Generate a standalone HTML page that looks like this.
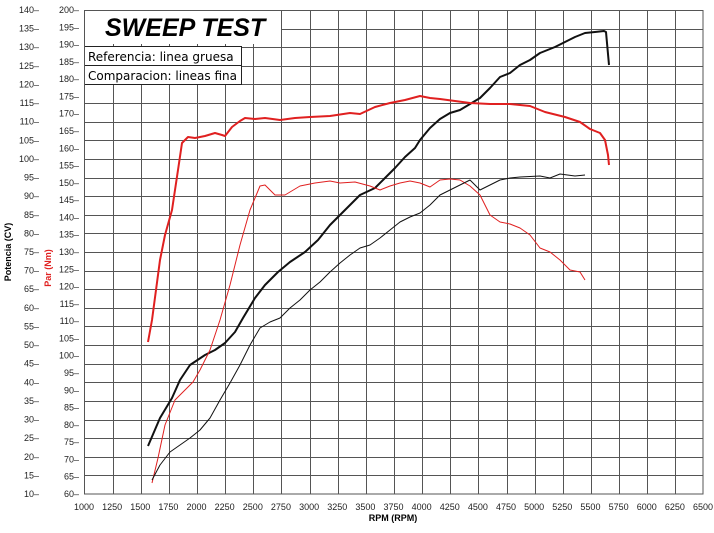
<!DOCTYPE html>
<html><head><meta charset="utf-8"><style>
body{margin:0;background:#fff;}
svg{display:block;font-family:"Liberation Sans",sans-serif;}
</style></head><body>
<svg width="714" height="533" viewBox="0 0 714 533" xmlns="http://www.w3.org/2000/svg">
<rect width="714" height="533" fill="#fff"/>
<g id="grid" stroke="#555" stroke-width="1"></g>
<rect x="84" y="10" width="197" height="34" fill="#fff"/>
<text x="105" y="36" font-size="25" font-weight="bold" font-style="italic">SWEEP TEST</text>
<rect x="84.5" y="46.5" width="157" height="19" fill="#fff" stroke="#222"/>
<rect x="84.5" y="65.5" width="157" height="19" fill="#fff" stroke="#222"/>
<text x="88" y="61" font-size="12" font-family="DejaVu Sans,sans-serif">Referencia: linea gruesa</text>
<text x="88" y="80" font-size="12" font-family="DejaVu Sans,sans-serif">Comparacion: lineas fina</text>
<rect x="84.5" y="10.5" width="618.5" height="483.5" fill="none" stroke="#555"/>
<g id="lbl" font-size="9" fill="#222"></g>
<text x="393" y="521" font-size="9" font-weight="bold" text-anchor="middle">RPM (RPM)</text>
<text transform="translate(11,252) rotate(-90)" font-size="9" font-weight="bold" text-anchor="middle">Potencia (CV)</text>
<text transform="translate(51,268) rotate(-90)" font-size="9" font-weight="bold" fill="#e02020" text-anchor="middle">Par (Nm)</text>
<g fill="none" stroke-linejoin="round">
<polyline stroke="#111" stroke-width="2" points="148,446 160,418 172,398 180,380 190,365 205,355 215,350 225,343 235,332 243,318 255,298 265,285 278,272 290,262 305,252 318,240 330,225 345,210 360,195 375,188 385,178 395,168 405,157 415,148 420,140 430,128 440,119 450,113 460,110 470,104 480,98 490,88 500,77 510,73 520,65 530,60 540,53 555,47 565,42 575,37 585,33 595,32 604,31 606,32 609,65"/>
<polyline stroke="#e02020" stroke-width="2" points="148,342 152,320 156,290 160,260 165,235 172,210 178,170 182,143 188,137 195,138 205,136 215,133 222,135 225,136 232,127 240,121 245,118 255,119 265,118 280,120 295,118 310,117 330,116 350,113 360,114 375,107 390,103 405,100 420,96 430,98 440,99 455,101 470,103 490,104 510,104 530,106 545,112 565,117 580,122 590,129 600,133 605,140 608,155 609,165"/>
<polyline stroke="#e02020" stroke-width="1" points="152,483 158,458 165,425 175,400 185,390 193,382 200,370 210,350 220,320 230,285 240,245 250,210 260,186 265,185 275,195 285,195 300,186 315,183 330,181 340,183 355,182 370,186 380,190 390,186 400,183 410,181 420,183 430,187 440,180 450,179 460,180 470,186 480,195 490,215 500,222 510,224 520,228 530,235 540,248 550,252 560,260 570,270 580,272 585,280"/>
<polyline stroke="#111" stroke-width="1" points="152,480 160,465 170,452 180,445 190,438 200,430 210,418 220,400 230,383 240,365 250,345 260,328 270,322 280,318 290,308 300,300 310,290 320,282 330,272 340,263 350,255 360,248 370,245 380,238 390,230 400,222 410,217 420,213 430,205 440,195 450,190 460,185 470,180 480,190 490,185 500,180 510,178 520,177 540,176 550,178 560,174 575,176 585,175"/>
</g>
<script>
var ns="http://www.w3.org/2000/svg",g=document.getElementById('grid'),l=document.getElementById('lbl');
function el(p,t,a,txt){var e=document.createElementNS(ns,t);for(var k in a)e.setAttribute(k,a[k]);if(txt)e.textContent=txt;p.appendChild(e);return e;}
for(var i=1;i<22;i++){var x=84.5+i*28.136;x=Math.round(x)+0.5;el(g,'line',{x1:x,y1:10,x2:x,y2:494});}
for(var i=1;i<26;i++){var y=Math.round(10+i*18.615)+0.5;el(g,'line',{x1:84,y1:y,x2:703,y2:y});}
for(var i=0;i<=22;i++){var x=84+i*28.136;el(l,'text',{x:x,y:510,'text-anchor':'middle'},String(1000+i*250));}
for(var i=0;i<=26;i++){var y=494-i*18.615+3;el(l,'text',{x:39,y:y,'text-anchor':'end'},(10+i*5)+'\u2013');}
for(var i=0;i<=28;i++){var y=494-i*17.286+3;el(l,'text',{x:79,y:y,'text-anchor':'end'},(60+i*5)+'\u2013');}
</script>
</svg>
</body></html>
